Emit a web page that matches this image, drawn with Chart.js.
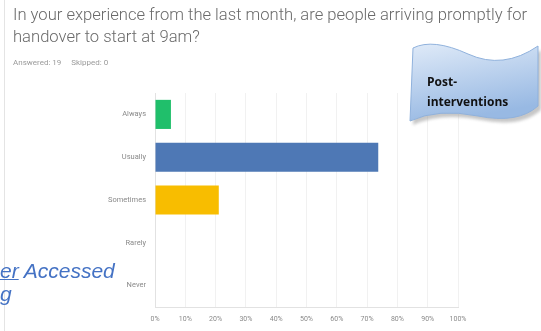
<!DOCTYPE html>
<html>
<head>
<meta charset="utf-8">
<script src="https://cdn.jsdelivr.net/npm/chart.js@4"></script>
<style>
  body { margin: 0; background: #fff; }
  #wrap { position: relative; width: 541px; height: 331px; overflow: hidden; }
  #edge { position: absolute; left: 4px; top: 0; width: 1px; height: 331px; background: #e4e4e4; }
  #title { position: absolute; left: 13px; top: 4px; width: 530px; font-family: Roboto, sans-serif; font-weight: 300; font-size: 16.6px; line-height: 22px; color: #6a6a6a; white-space: nowrap; }
  #meta { position: absolute; left: 13px; top: 58px; font-family: Roboto, sans-serif; font-size: 8px; color: #9a9a9a; }
  #link { position: absolute; left: 0; top: 259px; font-family: "Liberation Sans", Arial, sans-serif; font-style: italic; font-size: 21px; line-height: 23px; color: #4472c4; white-space: nowrap; }
  #link u { text-decoration-thickness: 1px; }
  #flag { position: absolute; left: 0; top: 0; }
  #flagText { position: absolute; left: 427px; top: 72px; font-family: "Open Sans", sans-serif; font-weight: 700; font-size: 12px; line-height: 20px; color: #111; }
  canvas { position: absolute; left: 0; top: 0; }
</style>
</head>
<body>
<div id="wrap">
  <canvas id="myChart" width="541" height="331"></canvas>
  <div id="edge"></div>
  <div id="title">In your experience from the last month, are people arriving promptly for<br>handover to start at 9am?</div>
  <div id="meta">Answered: 19&nbsp;&nbsp;&nbsp;&nbsp;&nbsp;Skipped: 0</div>
  <div id="link"><u>er</u> Accessed<br>g</div>
  <svg id="flag" width="541" height="331">
    <defs>
      <linearGradient id="fill" x1="0" y1="0" x2="0.3" y2="1">
        <stop offset="0" stop-color="#dfeaf8"/>
        <stop offset="1" stop-color="#98b9e3"/>
      </linearGradient>
      <filter id="blur"><feGaussianBlur stdDeviation="1.5"/></filter>
    </defs>
    <path d="M413,48 Q433,38 468,54 T538,46 L538,106 Q518,124 478,116 T410,121 Z" transform="translate(3,4)" fill="#999" opacity="0.55" filter="url(#blur)"/>
    <path d="M413,48 Q433,38 468,54 T538,46 L538,106 Q518,124 478,116 T410,121 Z" fill="url(#fill)" stroke="#8fb1dc" stroke-width="1"/>
  </svg>
  <div id="flagText">Post-<br>interventions</div>
</div>
<script>
const categories = ["Always", "Usually", "Sometimes", "Rarely", "Never"];
const percentages = [5.26, 73.68, 21.05, 0, 0];
const barColors = ["#20bf6b", "#4e78b5", "#f8bd00", "#999999", "#999999"];
const xTicks = [0, 10, 20, 30, 40, 50, 60, 70, 80, 90, 100];

const ctx = document.getElementById("myChart");

new Chart(ctx, {
  type: "bar",
  data: {
    labels: categories,
    datasets: [
      {
        data: percentages,
        backgroundColor: barColors,
        borderWidth: 0,
        barPercentage: 0.68,
        categoryPercentage: 1,
      },
    ],
  },
  options: {
    indexAxis: "y",
    responsive: false,
    animation: false,
    layout: {
      padding: { top: 93, right: 83, bottom: 0, left: 0 },
    },
    scales: {
      x: {
        min: 0,
        max: 100,
        afterFit: (scale) => {
          scale.height = 24;
        },
        afterBuildTicks: (scale) => {
          scale.ticks = xTicks.map((v) => ({ value: v }));
        },
        grid: {
          color: "#f1f1f1",
          drawTicks: false,
        },
        border: { color: "#e2e2e2" },
        ticks: {
          padding: 8,
          color: "#8a8a8a",
          font: { family: "Roboto", size: 7 },
          callback: (v) => v + "%",
        },
      },
      y: {
        afterFit: (scale) => {
          scale.width = 155;
        },
        grid: {
          drawOnChartArea: false,
          drawTicks: false,
        },
        border: { color: "#e2e2e2" },
        ticks: {
          padding: 9,
          color: "#8a8a8a",
          font: { family: "Roboto", size: 7.5 },
        },
      },
    },
    plugins: {
      legend: { display: false },
      tooltip: { enabled: false },
    },
  },
});
</script>
</body>
</html>
